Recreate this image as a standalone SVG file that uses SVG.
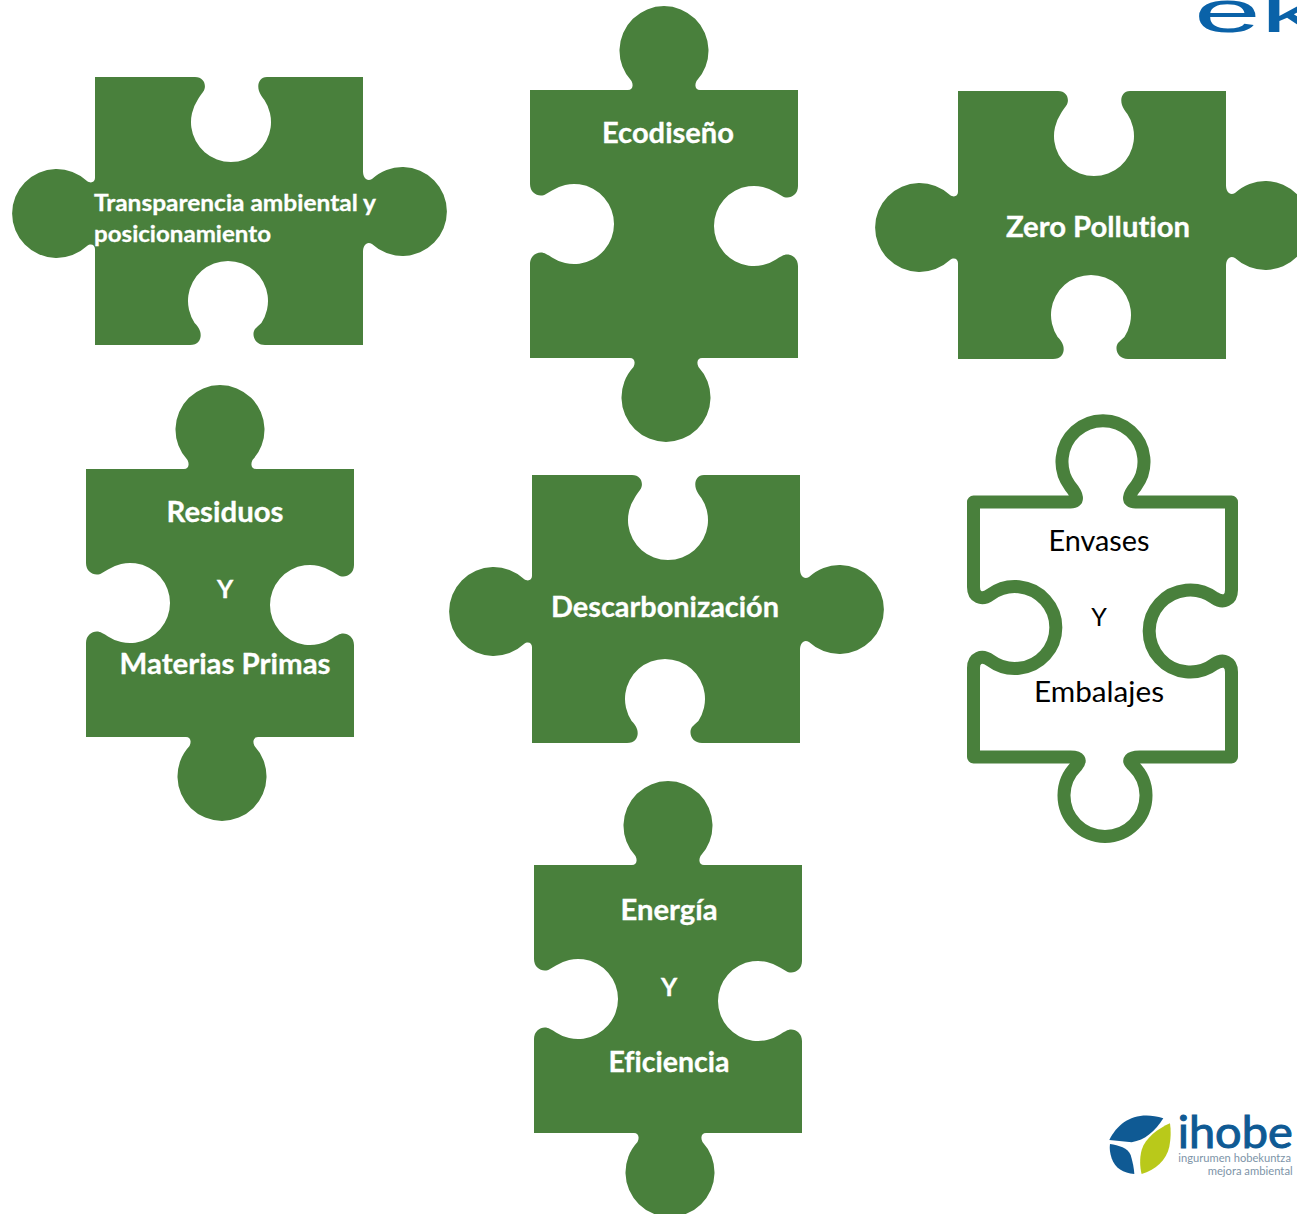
<svg xmlns="http://www.w3.org/2000/svg" width="1297" height="1214" viewBox="0 0 1297 1214">
<style>
.p{fill:#49803c}
.t{font-family:"Lato","Open Sans",sans-serif;font-weight:700;font-size:28px;fill:#fff;stroke:#fff;stroke-width:.3px;text-anchor:middle;font-variant-ligatures:none}
.o{fill:none;stroke:#49803c;stroke-width:13;stroke-linejoin:round}
.b{font-family:"Lato","Open Sans",sans-serif;font-size:28px;fill:#000;text-anchor:middle;font-variant-ligatures:none}
.s{font-family:"Lato",sans-serif;fill:#7d94a8;font-size:33px}
.y{font-size:25px}
</style>
<defs>
<path id="a" d="M0 0H100C110 0 112 10 108 15C106 18 104 20 102.6 23A40 40 0 1 0 169.4 23C167 20 165 17 164 14C162 8 164 0 172 0H268V94C268 101 272 105 277 102A44.5 44.5 0 1 1 277 167C272 164 268 168 268 175V268H170C160 268 156 258 160 252C162 250 164 248 166.4 246A40 40 0 1 0 99.6 246C102 248 104 251 105 254C107 260 105 268 95 268H0V172C0 168 -4 166 -8 169A44.5 44.5 0 1 1 -8 104C-4 107 0 105 0 101Z"/>
<path id="b" d="M0 0H98C102 0 104 -4 101.5 -9A44.5 44.5 0 1 1 166.5 -9C164 -4 166 0 170 0H268V96C268 106 258 110 252 106C250 105 248 104 246 102.6A40 40 0 1 0 246 169.4C248 168 250 167 252 166C258 162 268 166 268 176V268H172C168 268 166 272 168.5 277A44.5 44.5 0 1 1 103.5 277C106 272 104 268 100 268H0V174C0 164 10 160 16 164C18 165 20 166 22 167.4A40 40 0 1 0 22 100.6C20 102 18 103 16 104C10 108 0 104 0 94Z"/>
</defs>
<rect width="1297" height="1214" fill="#fff"/>
<g id="logo-eko"><text transform="translate(1194 32) scale(2 1)" font-family="Liberation Sans,Arial,sans-serif" font-size="60" fill="#0a62a8">eko</text></g>
<g id="transparencia"><use href="#a" class="p" x="95" y="77"/>
<text class="t" style="text-anchor:start;font-size:23px" x="94" y="211" textLength="282" lengthAdjust="spacingAndGlyphs">Transparencia ambiental y</text>
<text class="t" style="text-anchor:start;font-size:23px" x="94" y="242" textLength="177" lengthAdjust="spacingAndGlyphs">posicionamiento</text></g>
<g id="ecodiseno"><use href="#b" class="p" x="530" y="90"/><text class="t" x="668" y="143" textLength="132" lengthAdjust="spacingAndGlyphs">Ecodiseño</text></g>
<g id="zero-pollution"><use href="#a" class="p" x="958" y="91"/><text class="t" x="1098" y="237" textLength="184" lengthAdjust="spacingAndGlyphs">Zero Pollution</text></g>
<g id="residuos"><use href="#b" class="p" x="86" y="469"/>
<text class="t" x="225" y="522" textLength="117" lengthAdjust="spacingAndGlyphs">Residuos</text>
<text class="t y" x="225" y="598">Y</text>
<text class="t" x="225" y="674" textLength="211" lengthAdjust="spacingAndGlyphs">Materias Primas</text></g>
<g id="descarbonizacion"><use href="#a" class="p" x="532" y="475"/><text class="t" x="665" y="617" textLength="228" lengthAdjust="spacingAndGlyphs">Descarbonización</text></g>
<g id="envases"><path class="o" transform="translate(973.5 502)" d="M0 0H97C106 0 104 -7 96.5 -16A41 41 0 1 1 162.5 -16C155 -7 153 0 162 0H258V88C258 98 250 102 241 96A41 41 0 1 0 241 162C250 156 258 160 258 170V255H166C157 255 153 258 160 264A41 41 0 1 1 103 264C108 258 106 255 97 255H0V166C0 156 8 152 17 158.5A41 41 0 1 0 17 92.5C8 99 0 95 0 85Z"/>
<text class="b" x="1099" y="551" textLength="101" lengthAdjust="spacingAndGlyphs">Envases</text>
<text class="b y" x="1099" y="626">Y</text>
<text class="b" x="1099" y="702" textLength="130" lengthAdjust="spacingAndGlyphs">Embalajes</text></g>
<g id="energia"><use href="#b" class="p" x="534" y="865"/>
<text class="t" x="669" y="920" textLength="97" lengthAdjust="spacingAndGlyphs">Energía</text>
<text class="t y" x="669" y="996">Y</text>
<text class="t" x="669" y="1072" textLength="121" lengthAdjust="spacingAndGlyphs">Eficiencia</text></g>
<g id="logo-ihobe" transform="translate(1090 1090) scale(.3333)">
<path fill="#0f5a94" d="M58 150C85 95 140 60 220 85C195 125 165 150 125 157Z"/>
<path fill="#0f5a94" d="M60 162C85 165 115 175 122 195C128 215 132 235 133 252C100 250 75 235 65 205C60 190 58 175 60 162Z"/>
<path fill="#b9c91a" d="M240 100C205 115 165 145 155 180C148 205 150 235 155 252C195 240 230 210 238 170C243 145 243 120 240 100Z"/>
<text x="263" y="175" font-family="Lato,sans-serif" font-size="132" fill="#0f5a94" stroke="#0f5a94" stroke-width="3" textLength="345" lengthAdjust="spacingAndGlyphs">ihobe</text>
<text class="s" x="265" y="217" textLength="338" lengthAdjust="spacingAndGlyphs">ingurumen hobekuntza</text>
<text class="s" x="353" y="256" textLength="255" lengthAdjust="spacingAndGlyphs">mejora ambiental</text>
</g>
</svg>
